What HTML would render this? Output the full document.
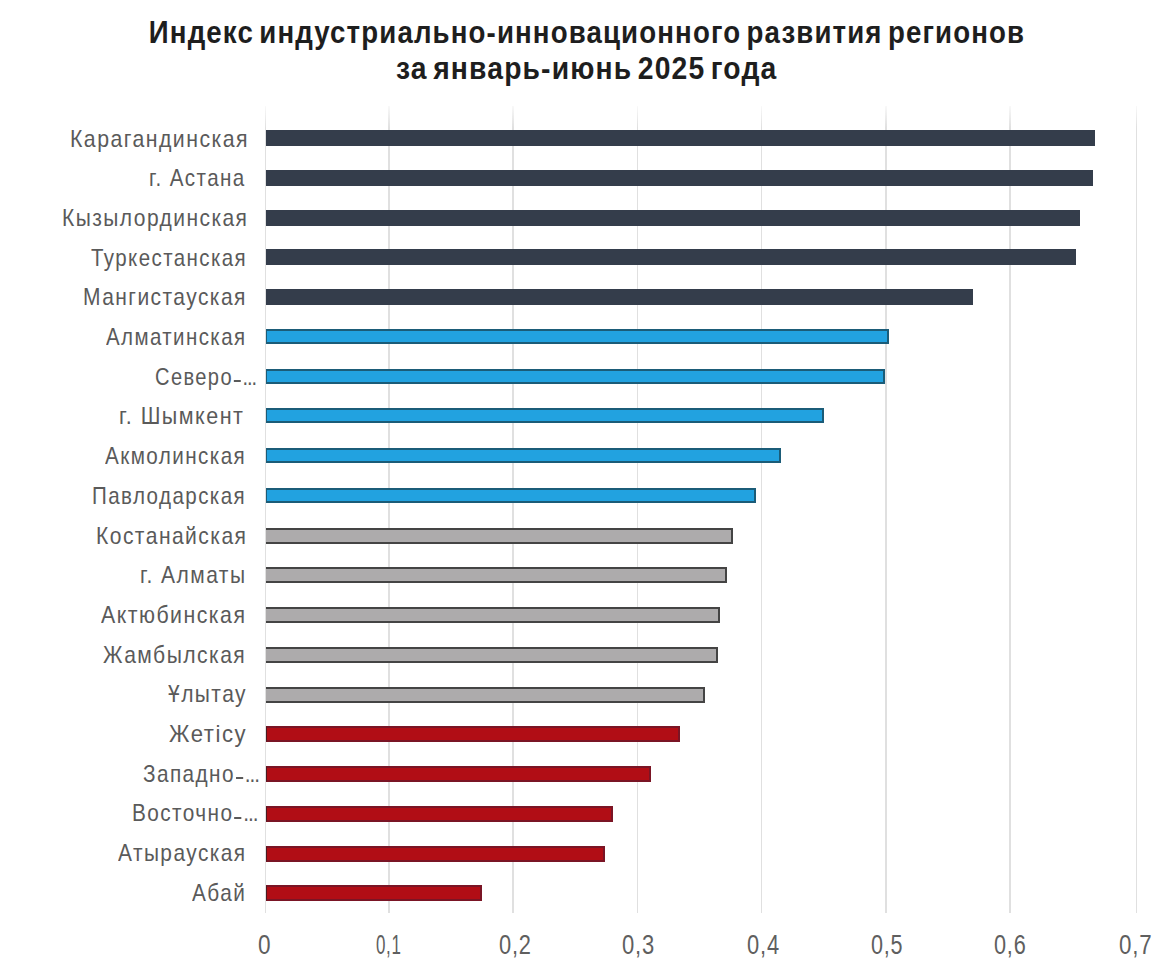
<!DOCTYPE html>
<html><head><meta charset="utf-8"><style>
html,body{margin:0;padding:0;background:#fff;}
#c{position:relative;width:1170px;height:965px;overflow:hidden;background:#fff;font-family:"Liberation Sans",sans-serif;}
.t{position:absolute;left:0;width:1170px;text-align:center;font-weight:bold;font-size:32px;letter-spacing:1.3px;word-spacing:-4px;line-height:36px;color:#1e1e1e;white-space:nowrap;}
.t span{display:inline-block;transform-origin:center;}
.gl{position:absolute;top:106px;height:807px;width:1.6px;background:linear-gradient(to bottom,rgba(224,224,224,0.2) 0px,#e0e0e0 22px,#e0e0e0 100%);}
.bar{position:absolute;left:265.5px;height:16px;box-sizing:border-box;}
.d{background:#343d4b;}
.b{background:#22a2e0;border:2px solid #1b5c78;border-left-width:1.5px;height:15px;}
.g{background:#adabac;border:2px solid #444;border-left:none;}
.r{background:#b10d15;border:2px solid #7a1525;border-left:1.5px solid #4a1a20;}
.lbl{position:absolute;font-size:23.2px;letter-spacing:1.6px;line-height:28px;color:#5a5a5a;white-space:nowrap;transform-origin:0 0;}
.dh{display:inline-block;width:8px;height:2px;background:#5a5a5a;vertical-align:2.5px;margin:0 2px 0 1px;}
.el{letter-spacing:-1.2px;}
.tk{position:absolute;top:929px;font-size:27px;letter-spacing:1.0px;line-height:32px;color:#5f5f5f;white-space:nowrap;transform-origin:0 0;}
</style></head><body><div id="c">
<div class="t" style="top:14px;left:2.192643923240894px"><span style="transform:scaleX(0.8642321633590291)">Индекс индустриально-инновационного развития регионов</span></div>
<div class="t" style="top:50px;left:1.2914051430230984px"><span style="transform:scaleX(0.884177926914494)">за январь-июнь 2025 года</span></div>
<div class="gl" style="left:264.50px"></div><div class="gl" style="left:388.40px"></div><div class="gl" style="left:512.40px"></div><div class="gl" style="left:636.50px"></div><div class="gl" style="left:760.70px"></div><div class="gl" style="left:885.20px"></div><div class="gl" style="left:1009.30px"></div><div class="gl" style="left:1135.60px"></div><div class="bar d" style="top:130.00px;width:829.2px"></div><div class="bar d" style="top:169.75px;width:827.5px"></div><div class="bar d" style="top:209.50px;width:814.3px"></div><div class="bar d" style="top:249.25px;width:810.5px"></div><div class="bar d" style="top:289.00px;width:707.3px"></div><div class="bar b" style="top:328.75px;width:623.1px"></div><div class="bar b" style="top:368.50px;width:619.0px"></div><div class="bar b" style="top:408.25px;width:558.0px"></div><div class="bar b" style="top:448.00px;width:515.5px"></div><div class="bar b" style="top:487.75px;width:490.5px"></div><div class="bar g" style="top:527.50px;width:467.5px"></div><div class="bar g" style="top:567.25px;width:461.0px"></div><div class="bar g" style="top:607.00px;width:454.4px"></div><div class="bar g" style="top:646.75px;width:452.3px"></div><div class="bar g" style="top:686.50px;width:439.9px"></div><div class="bar r" style="top:726.25px;width:414.9px"></div><div class="bar r" style="top:766.00px;width:385.5px"></div><div class="bar r" style="top:805.75px;width:347.9px"></div><div class="bar r" style="top:845.50px;width:339.2px"></div><div class="bar r" style="top:885.25px;width:216.9px"></div><div class="lbl" id="l0" style="top:124.60px;left:70.17px;transform:scaleX(0.9169)">Карагандинская</div><div class="lbl" id="l1" style="top:164.29px;left:149.23px;transform:scaleX(0.8882)">г. Астана</div><div class="lbl" id="l2" style="top:203.98px;left:62.19px;transform:scaleX(0.9053)">Кызылординская</div><div class="lbl" id="l3" style="top:243.67px;left:91.12px;transform:scaleX(0.8842)">Туркестанская</div><div class="lbl" id="l4" style="top:283.36px;left:83.19px;transform:scaleX(0.9049)">Мангистауская</div><div class="lbl" id="l5" style="top:323.05px;left:106.00px;transform:scaleX(0.8833)">Алматинская</div><div class="lbl" id="l6" style="top:362.74px;left:155.13px;transform:scaleX(0.8664)">Северо<span class="dh"></span><span class="el">...</span></div><div class="lbl" id="l7" style="top:402.43px;left:119.17px;transform:scaleX(0.9287)">г. Шымкент</div><div class="lbl" id="l8" style="top:442.12px;left:105.00px;transform:scaleX(0.8903)">Акмолинская</div><div class="lbl" id="l9" style="top:481.81px;left:92.23px;transform:scaleX(0.8871)">Павлодарская</div><div class="lbl" id="l10" style="top:521.50px;left:95.74px;transform:scaleX(0.9080)">Костанайская</div><div class="lbl" id="l11" style="top:561.19px;left:140.20px;transform:scaleX(0.9061)">г. Алматы</div><div class="lbl" id="l12" style="top:600.88px;left:101.00px;transform:scaleX(0.9192)">Актюбинская</div><div class="lbl" id="l13" style="top:640.57px;left:103.09px;transform:scaleX(0.9099)">Жамбылская</div><div class="lbl" id="l14" style="top:680.26px;left:168.09px;transform:scaleX(0.9055)">Ұлытау</div><div class="lbl" id="l15" style="top:719.95px;left:169.05px;transform:scaleX(0.9543)">Жетісу</div><div class="lbl" id="l16" style="top:759.64px;left:143.11px;transform:scaleX(0.8944)">Западно<span class="dh"></span><span class="el">...</span></div><div class="lbl" id="l17" style="top:799.33px;left:131.69px;transform:scaleX(0.8960)">Восточно<span class="dh"></span><span class="el">...</span></div><div class="lbl" id="l18" style="top:839.02px;left:118.00px;transform:scaleX(0.9006)">Атырауская</div><div class="lbl" id="l19" style="top:878.71px;left:192.00px;transform:scaleX(0.8962)">Абай</div><div class="tk" id="t0" style="left:257.86px;transform:scaleX(0.8368)">0</div><div class="tk" id="t1" style="left:376.17px;transform:scaleX(0.6280)">0,1</div><div class="tk" id="t2" style="left:498.76px;transform:scaleX(0.8093)">0,2</div><div class="tk" id="t3" style="left:622.18px;transform:scaleX(0.8158)">0,3</div><div class="tk" id="t4" style="left:746.87px;transform:scaleX(0.8107)">0,4</div><div class="tk" id="t5" style="left:871.37px;transform:scaleX(0.7999)">0,5</div><div class="tk" id="t6" style="left:994.20px;transform:scaleX(0.8036)">0,6</div><div class="tk" id="t7" style="left:1118.87px;transform:scaleX(0.8275)">0,7</div>
</div></body></html>
